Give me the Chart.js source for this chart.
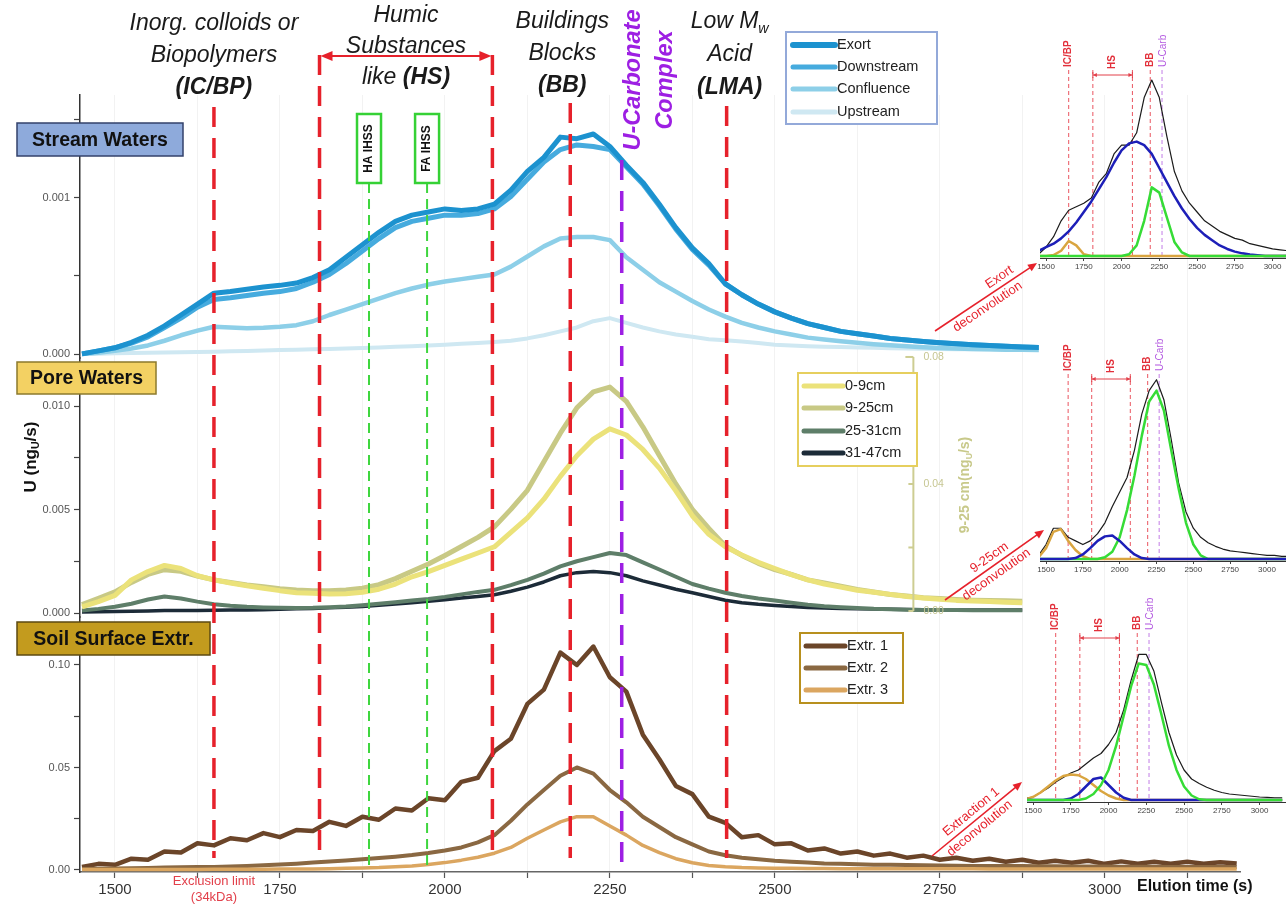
<!DOCTYPE html>
<html>
<head>
<meta charset="utf-8">
<script src="https://cdn.jsdelivr.net/npm/chart.js@4.4.1/dist/chart.umd.min.js"></script>
<style>
  html, body { margin: 0; padding: 0; background: #fff; }
  #wrap { position: relative; width: 1286px; height: 905px; overflow: hidden; }
  canvas { position: absolute; }
</style>
</head>
<body>
<div id="wrap">
  <canvas id="main" width="1286" height="905" style="left:0;top:0"></canvas>
  <canvas id="ins1" width="256" height="260" style="left:1030px;top:20px"></canvas>
  <canvas id="ins2" width="256" height="260" style="left:1030px;top:320px"></canvas>
  <canvas id="ins3" width="269" height="240" style="left:1017px;top:585px"></canvas>
</div>
<script>
// ---------- elution times (s) ----------
const streamT = [1450,1475,1500,1525,1550,1575,1600,1625,1650,1675,1700,1725,1750,1775,1800,1825,1850,1875,1900,1925,1950,1975,2000,2025,2050,2075,2100,2125,2150,2175,2200,2225,2250,2275,2300,2325,2350,2375,2400,2425,2450,2475,2500,2525,2550,2575,2600,2625,2650,2675,2700,2725,2750,2775,2800,2825,2850,2875,2900];
const poreT = [1450,1475,1500,1525,1550,1575,1600,1625,1650,1675,1700,1725,1750,1775,1800,1825,1850,1875,1900,1925,1950,1975,2000,2025,2050,2075,2100,2125,2150,2175,2200,2225,2250,2275,2300,2325,2350,2375,2400,2425,2450,2475,2500,2525,2550,2575,2600,2625,2650,2675,2700,2725,2750,2775,2800,2825,2850,2875];
const soilT = [1450,1475,1500,1525,1550,1575,1600,1625,1650,1675,1700,1725,1750,1775,1800,1825,1850,1875,1900,1925,1950,1975,2000,2025,2050,2075,2100,2125,2150,2175,2200,2225,2250,2275,2300,2325,2350,2375,2400,2425,2450,2475,2500,2525,2550,2575,2600,2625,2650,2675,2700,2725,2750,2775,2800,2825,2850,2875,2900,2925,2950,2975,3000,3025,3050,3075,3100,3125,3150,3175,3200];
const insetT = [1450,1500,1550,1600,1650,1700,1750,1800,1850,1900,1950,2000,2050,2100,2150,2200,2250,2300,2350,2400,2450,2500,2550,2600,2650,2700,2750,2800,2850,2900,2950,3000,3050,3100,3150];

// ---------- stream waters, U (ng/s) ----------
const exort = [0.000001,0.00002,0.00004,0.000075,0.00012,0.00018,0.00025,0.00032,0.00039,0.0004,0.000415,0.00043,0.00044,0.000455,0.00049,0.00054,0.00062,0.0007,0.00078,0.00085,0.00089,0.00091,0.00093,0.00092,0.00093,0.00096,0.00105,0.00117,0.00126,0.00139,0.00138,0.00141,0.00133,0.00121,0.0011,0.00096,0.00081,0.00068,0.00058,0.00045,0.00038,0.00032,0.00027,0.00023,0.000195,0.00017,0.000145,0.00013,0.000115,0.0001,0.00009,0.00008,0.000072,0.000065,0.00006,0.000055,0.00005,0.000045,0.000042];
const downstream = [0.000001,0.00002,0.00004,0.00007,0.00011,0.00017,0.00023,0.0003,0.00035,0.00036,0.000375,0.00039,0.0004,0.00042,0.00046,0.00051,0.00058,0.00066,0.00074,0.00081,0.00085,0.00087,0.00089,0.00089,0.0009,0.00093,0.00101,0.00112,0.00123,0.00131,0.00134,0.00133,0.00131,0.0012,0.00109,0.00095,0.0008,0.00067,0.00057,0.00045,0.00038,0.00032,0.00027,0.00023,0.000195,0.00017,0.000145,0.00013,0.000115,0.0001,0.00009,0.00008,0.000072,0.000065,0.00006,0.000055,0.00005,0.000045,0.000042];
const confluence = [0,0.000008,0.00002,0.000035,0.000055,0.000085,0.00012,0.00015,0.000175,0.00017,0.000165,0.000168,0.000175,0.000185,0.00021,0.00025,0.000285,0.00032,0.000355,0.00039,0.00042,0.000445,0.000465,0.00048,0.000495,0.00051,0.00056,0.000625,0.00069,0.00074,0.00075,0.00075,0.00073,0.00062,0.00054,0.00046,0.0004,0.00034,0.000285,0.00024,0.0002,0.00017,0.000145,0.000125,0.000105,0.000093,0.000082,0.000072,0.000063,0.000056,0.00005,0.000044,0.000038,0.000035,0.000032,0.00003,0.000028,0.000027,0.000026];
const upstream = [0,0.000002,0.000005,0.000006,0.000008,0.00001,0.000012,0.000013,0.000015,0.000017,0.00002,0.000022,0.000025,0.000027,0.00003,0.000032,0.000035,0.000038,0.000042,0.000046,0.00005,0.000055,0.00006,0.000065,0.00007,0.000077,0.000085,0.0001,0.00012,0.000145,0.00017,0.00021,0.00023,0.0002,0.00017,0.000145,0.000125,0.00011,0.000095,0.000088,0.00008,0.00007,0.00006,0.000055,0.00005,0.000047,0.000045,0.000042,0.00004,0.000037,0.000035,0.000033,0.000032,0.000031,0.00003,0.000029,0.000028,0.000027,0.000026];

// ---------- pore waters ----------
const pore0_9 = [0.0003,0.00055,0.00085,0.0016,0.002,0.0023,0.00215,0.0018,0.0016,0.00145,0.00132,0.0012,0.00108,0.00098,0.00095,0.00092,0.00093,0.001,0.00115,0.0014,0.00175,0.002,0.0023,0.0026,0.0029,0.0032,0.0039,0.0046,0.0055,0.0066,0.0076,0.0084,0.0089,0.0086,0.0079,0.007,0.0059,0.0047,0.0038,0.0032,0.0028,0.00245,0.00215,0.00185,0.0016,0.0014,0.00125,0.0011,0.001,0.0009,0.0008,0.00072,0.00066,0.00061,0.00058,0.00055,0.00052,0.0005];
// 9-25 cm is read on its own axis (0 - 0.08 ng/s)
const pore9_25 = [0.002,0.004,0.006,0.009,0.0115,0.013,0.0125,0.011,0.0098,0.009,0.0082,0.0076,0.007,0.0066,0.0064,0.0064,0.0066,0.0072,0.0083,0.0102,0.0125,0.0148,0.0175,0.0203,0.0232,0.0265,0.032,0.038,0.047,0.056,0.064,0.069,0.0705,0.066,0.058,0.049,0.04,0.032,0.026,0.0205,0.0175,0.015,0.013,0.0115,0.0098,0.0088,0.0078,0.0068,0.006,0.0052,0.0047,0.0042,0.0039,0.0036,0.0034,0.0033,0.0032,0.0031];
const pore25_31 = [0.00012,0.0002,0.0003,0.00045,0.00065,0.0008,0.0007,0.00055,0.00042,0.00035,0.0003,0.00027,0.00025,0.00024,0.00025,0.00028,0.00032,0.00038,0.00045,0.00052,0.0006,0.00068,0.00078,0.0009,0.00102,0.00112,0.00135,0.0016,0.0019,0.00225,0.0025,0.0027,0.0029,0.0028,0.00245,0.0021,0.00175,0.0014,0.00118,0.00098,0.00082,0.0007,0.0006,0.0005,0.0004,0.00033,0.00028,0.00024,0.0002,0.00018,0.00016,0.00015,0.00014,0.00014,0.00013,0.00013,0.00013,0.00013];
const pore31_47 = [0.00005,0.00006,0.00007,0.00008,0.0001,0.00012,0.00012,0.00012,0.00013,0.00014,0.00015,0.00016,0.00018,0.0002,0.00022,0.00025,0.00028,0.00032,0.00038,0.00044,0.0005,0.00057,0.00064,0.00072,0.0008,0.00088,0.00105,0.00125,0.0015,0.0018,0.00195,0.002,0.00195,0.0018,0.00155,0.00135,0.00115,0.00098,0.0008,0.00062,0.0005,0.00042,0.00036,0.00031,0.00027,0.00024,0.00022,0.0002,0.00019,0.00018,0.00017,0.00016,0.00015,0.00015,0.00014,0.00014,0.00014,0.00014];

// ---------- soil surface extractions ----------
const extr1 = [0.0015,0.003,0.0025,0.0055,0.005,0.009,0.0085,0.013,0.012,0.0155,0.0145,0.018,0.016,0.0195,0.019,0.0235,0.0215,0.026,0.0245,0.03,0.029,0.035,0.034,0.043,0.045,0.058,0.064,0.081,0.088,0.106,0.1,0.109,0.094,0.087,0.066,0.054,0.041,0.037,0.026,0.023,0.016,0.017,0.0125,0.013,0.0095,0.0105,0.008,0.009,0.007,0.008,0.006,0.007,0.005,0.006,0.0045,0.0055,0.004,0.005,0.0035,0.0045,0.0035,0.0045,0.003,0.0042,0.003,0.004,0.003,0.004,0.003,0.0038,0.0032];
const extr2 = [0.0005,0.0006,0.0007,0.0008,0.001,0.0012,0.0013,0.0014,0.0015,0.0017,0.002,0.0023,0.0027,0.0031,0.0036,0.0041,0.0046,0.0052,0.0058,0.0065,0.0073,0.0083,0.0095,0.011,0.0135,0.017,0.024,0.032,0.039,0.046,0.05,0.047,0.039,0.033,0.026,0.021,0.016,0.0125,0.009,0.0072,0.006,0.0052,0.0045,0.004,0.0036,0.0032,0.003,0.0028,0.0026,0.0025,0.0024,0.0023,0.0022,0.0021,0.002,0.002,0.0019,0.0019,0.0018,0.0018,0.0017,0.0017,0.0017,0.0016,0.0016,0.0016,0.0015,0.0015,0.0015,0.0015,0.0015];
const extr3 = [0.0002,0.0002,0.0002,0.0002,0.0003,0.0003,0.0003,0.0003,0.0004,0.0004,0.0004,0.0004,0.0005,0.0005,0.0005,0.0006,0.0008,0.001,0.0012,0.0016,0.002,0.0027,0.0036,0.0048,0.0062,0.0082,0.011,0.0155,0.0195,0.0235,0.026,0.026,0.0215,0.017,0.012,0.0085,0.0055,0.0035,0.0022,0.0016,0.0012,0.001,0.0009,0.0008,0.0007,0.0007,0.0006,0.0006,0.0006,0.0006,0.0006,0.0006,0.0006,0.0006,0.0006,0.0005,0.0005,0.0005,0.0005,0.0005,0.0005,0.0005,0.0005,0.0005,0.0005,0.0005,0.0005,0.0005,0.0005,0.0005,0.0005];

// ---------- deconvolutions (normalised signal) ----------
const exortSignal = [0.01,0.05,0.11,0.2,0.26,0.28,0.3,0.33,0.42,0.47,0.58,0.63,0.63,0.7,0.9,1.0,0.9,0.68,0.48,0.37,0.3,0.25,0.2,0.17,0.14,0.12,0.1,0.09,0.07,0.06,0.05,0.04,0.035,0.03,0.03];
const exortICBP = [0,0,0.005,0.03,0.085,0.06,0.01,0,0,0,0,0,0,0,0,0,0,0,0,0,0,0,0,0,0,0,0,0,0,0,0,0,0,0,0];
const exortHS = [0.03,0.05,0.07,0.1,0.14,0.19,0.25,0.31,0.38,0.45,0.53,0.6,0.64,0.65,0.63,0.58,0.5,0.42,0.34,0.27,0.21,0.16,0.12,0.09,0.06,0.04,0.025,0.015,0.008,0.004,0,0,0,0,0];
const exortBB = [0,0,0,0,0,0,0,0,0,0,0,0,0.01,0.06,0.2,0.39,0.36,0.22,0.08,0.02,0,0,0,0,0,0,0,0,0,0,0,0,0,0,0];

const poreSignal = [0.02,0.08,0.17,0.17,0.12,0.1,0.08,0.1,0.14,0.2,0.29,0.37,0.45,0.6,0.8,0.93,0.99,0.88,0.66,0.42,0.26,0.17,0.12,0.09,0.07,0.055,0.045,0.04,0.035,0.03,0.025,0.02,0.02,0.015,0.015];
const poreICBP = [0.01,0.06,0.15,0.165,0.1,0.05,0.015,0,0,0,0,0,0,0,0,0,0,0,0,0,0,0,0,0,0,0,0,0,0,0,0,0,0,0,0];
const poreHS = [0,0,0,0,0,0.005,0.025,0.06,0.1,0.125,0.13,0.1,0.06,0.025,0.005,0,0,0,0,0,0,0,0,0,0,0,0,0,0,0,0,0,0,0,0];
const poreBB = [0,0,0,0,0,0,0,0,0,0.01,0.04,0.12,0.27,0.46,0.68,0.87,0.93,0.82,0.6,0.39,0.2,0.08,0.02,0,0,0,0,0,0,0,0,0,0,0,0];

const soilSignal = [0.01,0.02,0.05,0.08,0.12,0.15,0.18,0.2,0.24,0.28,0.31,0.37,0.45,0.6,0.8,0.97,0.97,0.86,0.65,0.45,0.3,0.2,0.14,0.11,0.085,0.065,0.05,0.04,0.035,0.03,0.025,0.02,0.018,0.015,0.015];
const soilICBP = [0.005,0.02,0.05,0.09,0.13,0.16,0.17,0.165,0.14,0.1,0.06,0.03,0.01,0,0,0,0,0,0,0,0,0,0,0,0,0,0,0,0,0,0,0,0,0,0];
const soilHS = [0,0,0,0,0,0,0.01,0.04,0.09,0.14,0.15,0.1,0.05,0.015,0,0,0,0,0,0,0,0,0,0,0,0,0,0,0,0,0,0,0,0,0];
const soilBB = [0,0,0,0,0,0,0,0,0.01,0.04,0.1,0.2,0.36,0.56,0.76,0.91,0.9,0.77,0.57,0.36,0.2,0.09,0.03,0.005,0,0,0,0,0,0,0,0,0,0,0];

// ---------- fraction boundaries & ticks ----------
const fractionBounds = [1650, 1810, 2072, 2190, 2427];   // IC/BP, HS start, HS end, BB, LMA
const uCarbT = 2268;
const ihssT = [1885, 1973];
const ihssLabels = ['HA IHSS', 'FA IHSS'];
const xTicks = [1500,1625,1750,1875,2000,2125,2250,2375,2500,2625,2750,2875,3000,3125];
const insetTicks = [1500,1750,2000,2250,2500,2750,3000];
const streamTicks = [0, 0.0005, 0.001, 0.0015];
const streamLabelled = [0, 0.001];
const poreTicks = [0, 0.0025, 0.005, 0.0075, 0.01];
const poreLabelled = [0, 0.005, 0.01];
const soilTicks = [0, 0.025, 0.05, 0.075, 0.1];
const soilLabelled = [0, 0.05, 0.1];
const pore925Ticks = [0, 0.02, 0.04, 0.06, 0.08];
const pore925Labelled = [0, 0.04, 0.08];

const FONT = '"Liberation Sans", Arial, Helvetica, sans-serif';
Chart.defaults.font.family = FONT;

const COL = {
  exort: '#1c92cf', downstream: '#46abde', confluence: '#8dcfe8', upstream: '#cfe8f2',
  p09: '#ebe27a', p925: '#c8c985', p2531: '#5e7e69', p3147: '#1c2b38',
  e1: '#6b4529', e2: '#8a6842', e3: '#dba660',
  red: '#e6212b', purple: '#9d1fe3', green: '#3ed63e'
};

const pts = (ts, vs) => ts.map((t, i) => ({ x: t, y: vs[i] }));
function line(label, ts, vs, color, width, axis, order) {
  return { label, data: pts(ts, vs), borderColor: color, backgroundColor: color, borderWidth: width,
           pointRadius: 0, tension: 0, yAxisID: axis, order, borderJoinStyle: 'round' };
}

// ---------- text helpers ----------
function setFont(ctx, size, b, i) { ctx.font = (i ? 'italic ' : '') + (b ? 'bold ' : '') + size + 'px ' + FONT; }
function runs(ctx, parts, x, y, size, align) {
  let total = 0;
  const widths = parts.map(p => { setFont(ctx, p.sub ? size * 0.62 : size, p.b, p.i); const w = ctx.measureText(p.t).width; total += w; return w; });
  let cx = align === 'left' ? x : align === 'right' ? x - total : x - total / 2;
  ctx.textAlign = 'left'; ctx.textBaseline = 'middle';
  parts.forEach((p, k) => {
    setFont(ctx, p.sub ? size * 0.62 : size, p.b, p.i);
    ctx.fillText(p.t, cx, y + (p.sub ? size * 0.32 : 0));
    cx += widths[k];
  });
}
function rotRuns(ctx, parts, x, y, size, align, ang) {
  ctx.save(); ctx.translate(x, y); ctx.rotate(ang); runs(ctx, parts, 0, 0, size, align); ctx.restore();
}
function vdash(ctx, x, y1, y2, color, w, dash) {
  ctx.save(); ctx.strokeStyle = color; ctx.lineWidth = w; ctx.setLineDash(dash);
  ctx.beginPath(); ctx.moveTo(x, y1); ctx.lineTo(x, y2); ctx.stroke(); ctx.restore();
}
function head(ctx, x, y, ang, len, half, color) {
  ctx.save(); ctx.translate(x, y); ctx.rotate(ang); ctx.fillStyle = color;
  ctx.beginPath(); ctx.moveTo(0, 0); ctx.lineTo(-len, -half); ctx.lineTo(-len, half); ctx.closePath(); ctx.fill(); ctx.restore();
}
function doubleArrow(ctx, x1, x2, y, color, w, len, half) {
  ctx.save(); ctx.strokeStyle = color; ctx.lineWidth = w;
  ctx.beginPath(); ctx.moveTo(x1 + len * 0.6, y); ctx.lineTo(x2 - len * 0.6, y); ctx.stroke(); ctx.restore();
  head(ctx, x2, y, 0, len, half, color); head(ctx, x1, y, Math.PI, len, half, color);
}

// ---------- decorations of the main panels ----------
const mainDecor = {
  id: 'mainDecor',
  afterDatasetsDraw(chart) {
    const ctx = chart.ctx, xs = chart.scales.x, X = t => xs.getPixelForValue(t);
    const tops = [107, 55, 55, 103, 106];
    fractionBounds.forEach((t, k) => vdash(ctx, X(t), tops[k], 858, COL.red, 3.5, [20, 11]));
    vdash(ctx, X(uCarbT), 160, 870, COL.purple, 3.5, [20, 11]);
    ihssT.forEach(t => vdash(ctx, X(t), 183, 870, COL.green, 2, [10, 6]));
  },
  afterDraw(chart) {
    const ctx = chart.ctx, xs = chart.scales.x, X = t => xs.getPixelForValue(t);
    ctx.save();

    // fraction headers
    ctx.fillStyle = '#1a1a1a';
    const headers = [
      { x: X(fractionBounds[0]), ys: [24, 56, 88], lines: [[{ t: 'Inorg. colloids or', i: 1 }], [{ t: 'Biopolymers', i: 1 }], [{ t: '(IC/BP)', i: 1, b: 1 }]] },
      { x: (X(fractionBounds[1]) + X(fractionBounds[2])) / 2, ys: [16, 47, 78], lines: [[{ t: 'Humic', i: 1 }], [{ t: 'Substances', i: 1 }], [{ t: 'like ', i: 1 }, { t: '(HS)', i: 1, b: 1 }]] },
      { x: X(fractionBounds[3]) - 8, ys: [22, 54, 86], lines: [[{ t: 'Buildings', i: 1 }], [{ t: 'Blocks', i: 1 }], [{ t: '(BB)', i: 1, b: 1 }]] },
      { x: X(fractionBounds[4]) + 3, ys: [22, 55, 88], lines: [[{ t: 'Low M', i: 1 }, { t: 'w', i: 1, sub: 1 }], [{ t: 'Acid', i: 1 }], [{ t: '(LMA)', i: 1, b: 1 }]] }
    ];
    headers.forEach(h => h.lines.forEach((ln, k) => runs(ctx, ln, h.x, h.ys[k], 23, 'center')));
    doubleArrow(ctx, X(fractionBounds[1]) + 1, X(fractionBounds[2]) - 1, 56, COL.red, 2, 12, 5);

    ctx.fillStyle = COL.purple;
    rotRuns(ctx, [{ t: 'U-Carbonate', b: 1, i: 1 }], X(uCarbT) + 12, 80, 23.5, 'center', -Math.PI / 2);
    rotRuns(ctx, [{ t: 'Complex', b: 1, i: 1 }], X(uCarbT) + 44, 80, 23.5, 'center', -Math.PI / 2);

    // IHSS reference boxes
    ihssT.forEach((t, k) => {
      const x = X(t);
      ctx.fillStyle = '#fff'; ctx.fillRect(x - 12, 114, 24, 69);
      ctx.strokeStyle = '#35d135'; ctx.lineWidth = 2.5; ctx.setLineDash([]); ctx.strokeRect(x - 12, 114, 24, 69);
      ctx.fillStyle = '#111';
      rotRuns(ctx, [{ t: ihssLabels[k], b: 1 }], x, 148.5, 12, 'center', -Math.PI / 2);
    });

    // panel name boxes
    const panels = [
      { t: 'Stream Waters', x: 17, y: 123, w: 166, h: 33, fill: '#8eaadb', stroke: '#33416b' },
      { t: 'Pore Waters', x: 17, y: 362, w: 139, h: 32, fill: '#f3d163', stroke: '#8c7a2c' },
      { t: 'Soil Surface Extr.', x: 17, y: 622, w: 193, h: 33, fill: '#c39b1e', stroke: '#5c4a12' }
    ];
    panels.forEach(p => {
      ctx.fillStyle = p.fill; ctx.fillRect(p.x, p.y, p.w, p.h);
      ctx.strokeStyle = p.stroke; ctx.lineWidth = 1.5; ctx.strokeRect(p.x, p.y, p.w, p.h);
      ctx.fillStyle = '#111'; runs(ctx, [{ t: p.t, b: 1 }], p.x + p.w / 2, p.y + p.h / 2 + 1, 19.5, 'center');
    });

    // y axis title
    ctx.fillStyle = '#111';
    rotRuns(ctx, [{ t: 'U (ng', b: 1 }, { t: 'U', b: 1, sub: 1 }, { t: '/s)', b: 1 }], 31, 457, 17, 'center', -Math.PI / 2);

    // 9-25 cm axis
    const y2 = chart.scales.yP2, ax = X(2710);
    const axCol = '#cdcd92';
    ctx.strokeStyle = axCol; ctx.lineWidth = 2;
    ctx.beginPath(); ctx.moveTo(ax, y2.getPixelForValue(0.08)); ctx.lineTo(ax, y2.getPixelForValue(0)); ctx.stroke();
    pore925Ticks.forEach(v => {
      const y = y2.getPixelForValue(v);
      ctx.beginPath(); ctx.moveTo(ax - (v === 0.08 ? 8 : 5), y); ctx.lineTo(ax, y); ctx.stroke();
    });
    ctx.fillStyle = '#c6c692';
    pore925Labelled.forEach(v => runs(ctx, [{ t: v.toFixed(2) }], ax + 10, y2.getPixelForValue(v), 10.5, 'left'));
    ctx.fillStyle = '#c8c98a';
    rotRuns(ctx, [{ t: '9-25 cm(ng', b: 1 }, { t: 'U', b: 1, sub: 1 }, { t: '/s)', b: 1 }], 965, 485, 14, 'center', -Math.PI / 2);

    // legends
    const ds = chart.data.datasets;
    const legends = [
      { items: [0, 1, 2, 3], widths: [6, 5, 5, 5], box: [786, 32, 151, 92], stroke: '#93a9d9', rows: [45, 67, 89, 112], lx: [790, 835], tx: 837 },
      { items: [4, 5, 6, 7], widths: [5, 5, 5, 5], box: [798, 373, 119, 93], stroke: '#e6cf5e', rows: [386, 408, 431, 453], lx: [801, 843], tx: 845 },
      { items: [8, 9, 10], widths: [5, 5, 5], box: [800, 633, 103, 70], stroke: '#b8901e', rows: [646, 668, 690], lx: [803, 845], tx: 847 }
    ];
    legends.forEach(L => {
      ctx.fillStyle = '#fff'; ctx.fillRect(L.box[0], L.box[1], L.box[2], L.box[3]);
      ctx.strokeStyle = L.stroke; ctx.lineWidth = 2; ctx.strokeRect(L.box[0], L.box[1], L.box[2], L.box[3]);
      L.items.forEach((di, k) => {
        const d = ds[di], y = L.rows[k];
        ctx.strokeStyle = d.borderColor; ctx.lineWidth = L.widths[k]; ctx.lineCap = 'round';
        ctx.beginPath(); ctx.moveTo(L.lx[0] + 3, y); ctx.lineTo(L.lx[1], y); ctx.stroke();
        ctx.lineCap = 'butt';
        ctx.fillStyle = '#222'; runs(ctx, [{ t: d.label }], L.tx, y, 14.5, 'left');
      });
    });

    // exclusion limit & x title
    ctx.fillStyle = '#e2404b';
    runs(ctx, [{ t: 'Exclusion limit' }], X(fractionBounds[0]), 881, 13, 'center');
    runs(ctx, [{ t: '(34kDa)' }], X(fractionBounds[0]), 897, 13, 'center');
    ctx.fillStyle = '#111';
    runs(ctx, [{ t: 'Elution time (s)', b: 1 }], 1137, 887, 16, 'left');

    // pointers to the deconvolution insets
    const arrows = [
      { x1: 935, y1: 331, x2: 1037, y2: 263, a: 'Exort', b: 'deconvolution', ao: 22 },
      { x1: 945, y1: 600, x2: 1044, y2: 530, a: '9-25cm', b: 'deconvolution', ao: 0 },
      { x1: 932, y1: 856, x2: 1022, y2: 782, a: 'Extraction 1', b: 'deconvolution', ao: 0 }
    ];
    arrows.forEach(A => {
      const ang = Math.atan2(A.y2 - A.y1, A.x2 - A.x1);
      ctx.strokeStyle = COL.red; ctx.lineWidth = 1.6;
      ctx.beginPath(); ctx.moveTo(A.x1, A.y1); ctx.lineTo(A.x2 - 6 * Math.cos(ang), A.y2 - 6 * Math.sin(ang)); ctx.stroke();
      head(ctx, A.x2, A.y2, ang, 9, 4, COL.red);
      const mx = (A.x1 + A.x2) / 2, my = (A.y1 + A.y2) / 2;
      ctx.save(); ctx.translate(mx, my); ctx.rotate(ang); ctx.fillStyle = COL.red;
      runs(ctx, [{ t: A.a }], A.ao, -9, 13, 'center');
      runs(ctx, [{ t: A.b }], -4, 9, 13, 'center');
      ctx.restore();
    });
    ctx.restore();
  }
};

function yPanel(min, max, ticks, labelled, decimals, stackWeight, weight) {
  return {
    type: 'linear', position: 'left', stack: 'panels', stackWeight, weight, min, max,
    afterBuildTicks: s => { s.ticks = ticks.map(v => ({ value: v })); },
    afterFit: s => { s.width = 70; },
    ticks: {
      font: { family: FONT, size: 11 }, color: '#555', padding: 4, autoSkip: false,
      callback: v => labelled.some(l => Math.abs(l - v) < 1e-9) ? Number(v).toFixed(decimals) : ''
    },
    grid: { drawOnChartArea: false, drawTicks: true, tickLength: 6, tickColor: '#444', tickWidth: 1.2 },
    border: { display: true, color: '#333', width: 1.5 }
  };
}

new Chart(document.getElementById('main'), {
  type: 'line',
  data: {
    datasets: [
      line('Exort', streamT, exort, COL.exort, 5, 'yS', 0),
      line('Downstream', streamT, downstream, COL.downstream, 5, 'yS', 1),
      line('Confluence', streamT, confluence, COL.confluence, 4.5, 'yS', 2),
      line('Upstream', streamT, upstream, COL.upstream, 4, 'yS', 3),
      line('0-9cm', poreT, pore0_9, COL.p09, 5, 'yP', 1),
      line('9-25cm', poreT, pore9_25, COL.p925, 5, 'yP2', 2),
      line('25-31cm', poreT, pore25_31, COL.p2531, 4, 'yP', 3),
      line('31-47cm', poreT, pore31_47, COL.p3147, 3.5, 'yP', 4),
      line('Extr. 1', soilT, extr1, COL.e1, 4.5, 'ySo', 2),
      line('Extr. 2', soilT, extr2, COL.e2, 4, 'ySo', 1),
      line('Extr. 3', soilT, extr3, COL.e3, 3.5, 'ySo', 0)
    ]
  },
  options: {
    responsive: false, animation: false, events: [],
    layout: { padding: { left: 10, top: 95, right: 46, bottom: 3 } },
    plugins: { legend: { display: false }, tooltip: { enabled: false } },
    scales: {
      x: {
        type: 'linear', min: 1447, max: 3205,
        afterBuildTicks: s => { s.ticks = xTicks.map(v => ({ value: v })); },
        afterFit: s => { s.height = 30; },
        ticks: { callback: v => (v % 250 === 0 ? String(v) : ''), font: { family: FONT, size: 15 }, color: '#333', padding: 3, maxRotation: 0, autoSkip: false },
        grid: { color: 'rgba(0,0,0,0.05)', lineWidth: 1, drawTicks: true, tickLength: 6, tickColor: '#555', tickWidth: 1.2 },
        border: { color: '#666', width: 1.5 }
      },
      yS: yPanel(-0.0000256, 0.00166, streamTicks, streamLabelled, 3, 263, 3),
      yP: yPanel(-0.000193, 0.01232, poreTicks, poreLabelled, 3, 259, 2),
      ySo: yPanel(-0.00098, 0.1234, soilTicks, soilLabelled, 2, 255, 1),
      yP2: { type: 'linear', display: false, position: 'right', min: -0.0822, max: 0.1625 }
    }
  },
  plugins: [mainDecor]
});

// ---------- deconvolution insets ----------
function insetDecor(o) {
  return {
    id: 'insetDecor',
    beforeDatasetsDraw(chart) {
      const ctx = chart.ctx, xs = chart.scales.x, X = t => xs.getPixelForValue(t);
      const base = chart.scales.y.getPixelForValue(0);
      fractionBounds.slice(0, 4).forEach(t => vdash(ctx, X(t), o.lineTop, base, '#ea5560', 1, [4, 3]));
      vdash(ctx, X(uCarbT), o.lineTop, base, '#c27ce6', 1, [4, 3]);
    },
    afterDraw(chart) {
      const ctx = chart.ctx, xs = chart.scales.x, X = t => xs.getPixelForValue(t);
      ctx.save();
      ctx.strokeStyle = '#e2404b'; ctx.lineWidth = 1;
      const a1 = X(fractionBounds[1]), a2 = X(fractionBounds[2]), ay = o.lineTop + 5;
      ctx.beginPath(); ctx.moveTo(a1, ay); ctx.lineTo(a2, ay); ctx.stroke();
      ctx.beginPath(); ctx.moveTo(a1, ay - 3); ctx.lineTo(a1, ay + 3); ctx.moveTo(a2, ay - 3); ctx.lineTo(a2, ay + 3); ctx.stroke();
      head(ctx, a2, ay, 0, 4, 2, '#e2404b'); head(ctx, a1, ay, Math.PI, 4, 2, '#e2404b');
      ctx.fillStyle = '#e2303b';
      rotRuns(ctx, [{ t: 'IC/BP', b: 1 }], X(fractionBounds[0]), o.lineTop - 3, 10, 'left', -Math.PI / 2);
      rotRuns(ctx, [{ t: 'HS', b: 1 }], (a1 + a2) / 2, ay - 6, 10, 'left', -Math.PI / 2);
      rotRuns(ctx, [{ t: 'BB', b: 1 }], X(fractionBounds[3]), o.lineTop - 3, 10, 'left', -Math.PI / 2);
      ctx.fillStyle = '#b45ce0';
      rotRuns(ctx, [{ t: 'U-Carb' }], X(uCarbT) + 1, o.lineTop - 3, 10, 'left', -Math.PI / 2);
      ctx.restore();
    }
  };
}

function makeInset(id, sig, icbp, hs, bb, o) {
  new Chart(document.getElementById(id), {
    type: 'line',
    data: {
      datasets: [
        line('signal', insetT, sig, '#1b1b1b', 1.2, 'y', 3),
        line('IC/BP', insetT, icbp, '#d9a540', 2.5, 'y', 2),
        line('HS', insetT, hs, '#1d1fb8', 2.5, 'y', o.blueTop ? 0 : 1),
        line('BB', insetT, bb, '#36dc36', 2.5, 'y', o.blueTop ? 1 : 0)
      ]
    },
    options: {
      responsive: false, animation: false, events: [],
      layout: { padding: { left: o.padL, right: 0, top: 0, bottom: o.padB } },
      plugins: { legend: { display: false }, tooltip: { enabled: false } },
      scales: {
        x: {
          type: 'linear', min: o.xmin, max: o.xmax,
          afterBuildTicks: s => { s.ticks = insetTicks.map(v => ({ value: v })); },
          afterFit: s => { s.height = 16; },
          ticks: { callback: v => String(v), font: { family: FONT, size: 8 }, color: '#444', padding: 1, maxRotation: 0, autoSkip: false },
          grid: { drawOnChartArea: false, drawTicks: true, tickLength: 3, tickColor: '#444' },
          border: { color: '#333', width: 1 }
        },
        y: { display: false, min: o.ymin, max: o.ymax }
      }
    },
    plugins: [insetDecor(o)]
  });
}

makeInset('ins1', exortSignal, exortICBP, exortHS, exortBB,
  { padL: 10, padB: 6, xmin: 1460, xmax: 3089, ymin: -0.0114, ymax: 1.341, lineTop: 50, blueTop: false });
makeInset('ins2', poreSignal, poreICBP, poreHS, poreBB,
  { padL: 10, padB: 3, xmin: 1459, xmax: 3129, ymin: -0.011, ymax: 1.32, lineTop: 54, blueTop: true });
makeInset('ins3', soilSignal, soilICBP, soilHS, soilBB,
  { padL: 10, padB: 7, xmin: 1460, xmax: 3175, ymin: -0.0133, ymax: 1.433, lineTop: 48, blueTop: false });
</script>
</body>
</html>
